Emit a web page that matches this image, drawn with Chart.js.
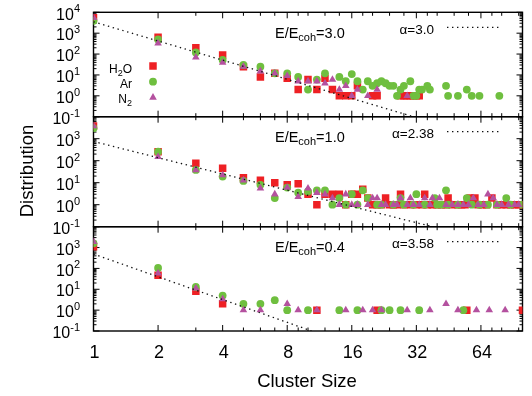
<!DOCTYPE html>
<html><head><meta charset="utf-8">
<script src="https://cdn.jsdelivr.net/npm/chart.js@4/dist/chart.umd.min.js"></script>
<style>html,body{margin:0;padding:0;background:#fff}#wrap{width:532px;height:396px}</style>
</head><body><div id="wrap"><canvas id="c" width="532" height="396"></canvas></div>
<script>
// ---------- data ----------
const xTickLabels = [1, 2, 4, 8, 16, 32, 64];
const xMinorTicks = [3, 5, 6, 7, 9, 10, 12, 14, 18, 20, 24, 28, 36, 40, 48, 56, 72, 80, 96];
const panelTitles = ['3.0', '1.0', '0.4'];
const alphaLabels = ['3.0', '2.38', '3.58'];

// top panel (E/Ecoh = 3.0)
const topH2OSize = [1,2,3,4,5,6,7,8,9,10,11,12,13,14,15,16,17,20,21,27,28,29,30,31,32,33];
const topH2ODist = [5500,630,200,90,25,8,12,7,2,6,2,7,2,1,1,1,3,1,1,1,1,1,1,1,1,1];
const topArSize = [1,2,3,4,5,6,7,8,9,10,11,12,14,15,16,17,18,19,20,21,22,23,24,25,26,27,28,30,31,32,33,34,36,37,44,45,50,55,58,63,78];
const topArDist = [3900,500,120,52,30,25,12,12,8,2,6,12,8,5,11,5,2,5,3,4,5,4,3,3,1,2,3,5,1,1,2,2,3,2,3,1,1,2,1,1,1];
const topN2Size = [1,2,3,4,5,6,7,8,9,10,11,12,13,14,15,16,17,19,21,29];
const topN2Dist = [5500,330,70,39,25,15,12,9,5,5,5,4,6,2,3,1,2,1,2,1];
const topFitSize = [1, 31];
const topFitDist = [3500, 0.1];

// middle panel (E/Ecoh = 1.0)
const midH2OSize = [1,2,3,4,5,6,7,8,9,10,11,12,13,14,15,16,17,18,19,20,21,22,23,24,25,26,27,28,30,32,34,35,36,38,40,42,44,45,47,50,52,54,57,60,62,65,68,72,76,80,84,88,92,96,100];
const midH2ODist = [3800,256,76,45,17,13,10,8,9,3,1,3,3,3,1,3,3,5,2,1,1,1,2,1,1,1,3,1,1,1,1,3,1,1,1,1,1,2,1,1,1,1,2,2,1,1,1,2,1,1,1,1,1,1,1];
const midArSize = [1,2,3,4,5,6,7,8,9,10,11,12,13,14,15,16,17,18,19,21,22,25,27,28,31,32,35,39,40,42,44,45,50,55,58,63,69,76,84,88,100];
const midArDist = [3000,256,38,19,12,8,2,6,3.5,4,4.5,4.5,1,2,1,3,1,4.5,2,1,1,1,2,1,1,3,1,2,1,1,4.5,1,1,2,1,1,1,1,2,1,1];
const midN2Size = [1,2,3,4,5,6,7,8,9,10,11,12,13,14,15,16,17,19,20,21,22,23,25,26,27,29,30,31,33,35,37,38,41,44,47,50,53,56,59,62,66,69,73,76,80,86,92,96];
const midN2Dist = [3800,150,38,22,13,5.6,3,6,2.3,5.5,3.5,3,2,1,3,1,1,1,2,2,1,1,1,1,2,1,2,1,1,2,1,2,2,1,1,1,1,1,2,1,1,3,2,1,1,1,1,1];
const midFitSize = [1, 38];
const midFitDist = [750, 0.1];

// bottom panel (E/Ecoh = 0.4)
const botH2OSize = [1,2,3,4,11,21,55,100];
const botH2ODist = [1100,47,8,2,1,1,1,1];
const botArSize = [1,2,3,4,5,6,7,8,10,14,17,22,24,27,33,53];
const botArDist = [1600,105,13,5,2,2,3,1,1,1,1,1,1,1,1,1];
const botN2Size = [1,2,3,4,5,6,8,9,11,15,18,20,22,29,37,44,50,61,70,83];
const botN2Dist = [1900,59,11,3.4,1,1,2,1,1,1,1,1,1,1,1,2,1,1,1,1];
const botFitSize = [1, 10.4];
const botFitDist = [490, 0.1];

// ---------- style ----------
const FONT = '"Liberation Sans", Arial, Helvetica, sans-serif';
const RED = '#ee2024', GREEN = '#6fbf3f', PURPLE = '#b4519f';
const R_RECT = 5.3, R_CIRC = 3.9, R_TRI = 4.4;
const pts = (xs, ys) => xs.map((x, i) => ({x, y: ys[i]}));

function fitSet(xs, ys, axis) {
  return {type: 'line', data: pts(xs, ys), yAxisID: axis, showLine: true, borderColor: '#111',
    borderWidth: 1.3, borderDash: [1.4, 3.6], pointRadius: 0, fill: false, order: 0};
}
function ptSet(xs, ys, axis, style, color, r, ord) {
  return {type: 'scatter', data: pts(xs, ys), yAxisID: axis, pointStyle: style, pointRadius: r,
    pointHoverRadius: r, backgroundColor: color, borderColor: color, pointBorderWidth: 0, order: ord};
}

const datasets = [
  fitSet(topFitSize, topFitDist, 'yTop'),
  ptSet(topN2Size, topN2Dist, 'yTop', 'triangle', PURPLE, R_TRI, 1),
  ptSet(topArSize, topArDist, 'yTop', 'circle', GREEN, R_CIRC, 2),
  ptSet(topH2OSize, topH2ODist, 'yTop', 'rect', RED, R_RECT, 3),
  fitSet(midFitSize, midFitDist, 'yMid'),
  ptSet(midN2Size, midN2Dist, 'yMid', 'triangle', PURPLE, R_TRI, 1),
  ptSet(midArSize, midArDist, 'yMid', 'circle', GREEN, R_CIRC, 2),
  ptSet(midH2OSize, midH2ODist, 'yMid', 'rect', RED, R_RECT, 3),
  fitSet(botFitSize, botFitDist, 'yBot'),
  ptSet(botN2Size, botN2Dist, 'yBot', 'triangle', PURPLE, R_TRI, 1),
  ptSet(botArSize, botArDist, 'yBot', 'circle', GREEN, R_CIRC, 2),
  ptSet(botH2OSize, botH2ODist, 'yBot', 'rect', RED, R_RECT, 3),
];

function yAxis(weight) {
  return {type: 'logarithmic', min: 0.1, max: 10000, position: 'left', stack: 'panels', stackWeight: weight,
    grid: {display: false}, border: {display: false}, ticks: {display: false},
    afterFit(s) { s.width = 93.5; }};
}

function rich(ctx, parts, x, y, align) {
  let w = 0;
  for (const p of parts) { ctx.font = p.size + 'px ' + FONT; p.w = ctx.measureText(p.t).width; w += p.w; }
  let cx = align === 'right' ? x - w : x;
  ctx.textAlign = 'left'; ctx.textBaseline = 'alphabetic';
  for (const p of parts) { ctx.font = p.size + 'px ' + FONT; ctx.fillText(p.t, cx, y + (p.dy || 0)); cx += p.w; }
}
function line(ctx, x1, y1, x2, y2) { ctx.beginPath(); ctx.moveTo(x1, y1); ctx.lineTo(x2, y2); ctx.stroke(); }
function marker(ctx, style, color, x, y, r) {
  ctx.fillStyle = color; ctx.beginPath();
  if (style === 'rect') { const s = r * Math.SQRT1_2; ctx.rect(x - s, y - s, 2 * s, 2 * s); }
  else if (style === 'circle') { ctx.arc(x, y, r, 0, Math.PI * 2); }
  else { ctx.moveTo(x, y - r); ctx.lineTo(x + r * 0.866, y + r * 0.5); ctx.lineTo(x - r * 0.866, y + r * 0.5); ctx.closePath(); }
  ctx.fill();
}

const framePlugin = {
  id: 'frame',
  beforeDatasetsDraw(chart) {
    const ctx = chart.ctx, ca = chart.chartArea, xs = chart.scales.x;
    ctx.save();
    ctx.strokeStyle = '#000'; ctx.lineWidth = 1.3;
    const ids = ['yTop', 'yMid', 'yBot'];
    ids.forEach((id, pi) => {
      const ys = chart.scales[id];
      const t = ys.top, b = ys.bottom, l = ca.left, r = ca.right;
      ctx.lineWidth = 1.4; ctx.strokeRect(l, t, r - l, b - t);
      ctx.lineWidth = 1;
      for (const v of xTickLabels) { const px = xs.getPixelForValue(v); line(ctx, px, b, px, b - 6); line(ctx, px, t, px, t + 6); }
      for (const v of xMinorTicks) { const px = xs.getPixelForValue(v); line(ctx, px, b, px, b - 3.5); line(ctx, px, t, px, t + 3.5); }
      for (let k = -1; k <= 4; k++) {
        const py = ys.getPixelForValue(Math.pow(10, k));
        line(ctx, l, py, l + 6, py); line(ctx, r, py, r - 6, py);
        if (k < 4) for (let m = 2; m <= 9; m++) {
          const q = ys.getPixelForValue(m * Math.pow(10, k));
          line(ctx, l, q, l + 3, q); line(ctx, r, q, r - 3, q);
        }
      }
      // y labels
      ctx.fillStyle = '#000';
      const kmax = pi === 0 ? 4 : 3;
      for (let k = -1; k <= kmax; k++) {
        const py = ys.getPixelForValue(Math.pow(10, k));
        rich(ctx, [{t: '10', size: 16, dy: 7.2}, {t: k < 0 ? '-' + (-k) : String(k), size: 11, dy: 0}], 80, py, 'right');
      }
      // panel annotations
      rich(ctx, [{t: 'E/E', size: 14.5}, {t: 'coh', size: 11, dy: 3}, {t: '=' + panelTitles[pi], size: 14.5}], 275, t + 25.5, 'left');
      rich(ctx, [{t: '\u03b1=' + alphaLabels[pi], size: 13.5}], 434, t + 21.5, 'right');
      ctx.save(); ctx.strokeStyle = '#111'; ctx.lineWidth = 1.3; ctx.setLineDash([1.4, 3.6]);
      line(ctx, 447, t + 15, 500, t + 15); ctx.restore();
    });
    // x labels
    ctx.fillStyle = '#000'; ctx.font = '18px ' + FONT; ctx.textAlign = 'center'; ctx.textBaseline = 'alphabetic';
    for (const v of xTickLabels) ctx.fillText(String(v), xs.getPixelForValue(v) + 1, 358);
    ctx.font = '18.5px ' + FONT;
    ctx.fillText('Cluster Size', 307, 387);
    ctx.save(); ctx.translate(32.5, 171); ctx.rotate(-Math.PI / 2);
    ctx.fillText('Distribution', 0, 0); ctx.restore();
    // legend
    ctx.fillStyle = '#000';
    rich(ctx, [{t: 'H', size: 12}, {t: '2', size: 9, dy: 3}, {t: 'O', size: 12}], 132, 73, 'right');
    rich(ctx, [{t: 'Ar', size: 12}], 132, 88, 'right');
    rich(ctx, [{t: 'N', size: 12}, {t: '2', size: 9, dy: 3}], 132, 103, 'right');
    ctx.restore();
  },
  afterDatasetsDraw(chart) {
    const ctx = chart.ctx;
    ctx.save();
    marker(ctx, 'rect', RED, 153, 66, R_RECT);
    marker(ctx, 'circle', GREEN, 153, 81.7, R_CIRC);
    marker(ctx, 'triangle', PURPLE, 153, 97.5, R_TRI);
    ctx.restore();
  }
};

new Chart(document.getElementById('c'), {
  type: 'scatter',
  data: {datasets},
  options: {
    responsive: false, animation: false, devicePixelRatio: 1,
    layout: {padding: {top: 12.3, right: 9.5, left: 0, bottom: 0}},
    plugins: {legend: {display: false}, tooltip: {enabled: false}},
    scales: {
      x: {type: 'logarithmic', min: 1, max: 100, position: 'bottom', grid: {display: false},
        border: {display: false}, ticks: {display: false}, afterFit(s) { s.height = 65; }},
      yBot: yAxis(104.3),
      yMid: yAxis(110),
      yTop: yAxis(104.4),
    }
  },
  plugins: [framePlugin]
});
</script></body></html>
